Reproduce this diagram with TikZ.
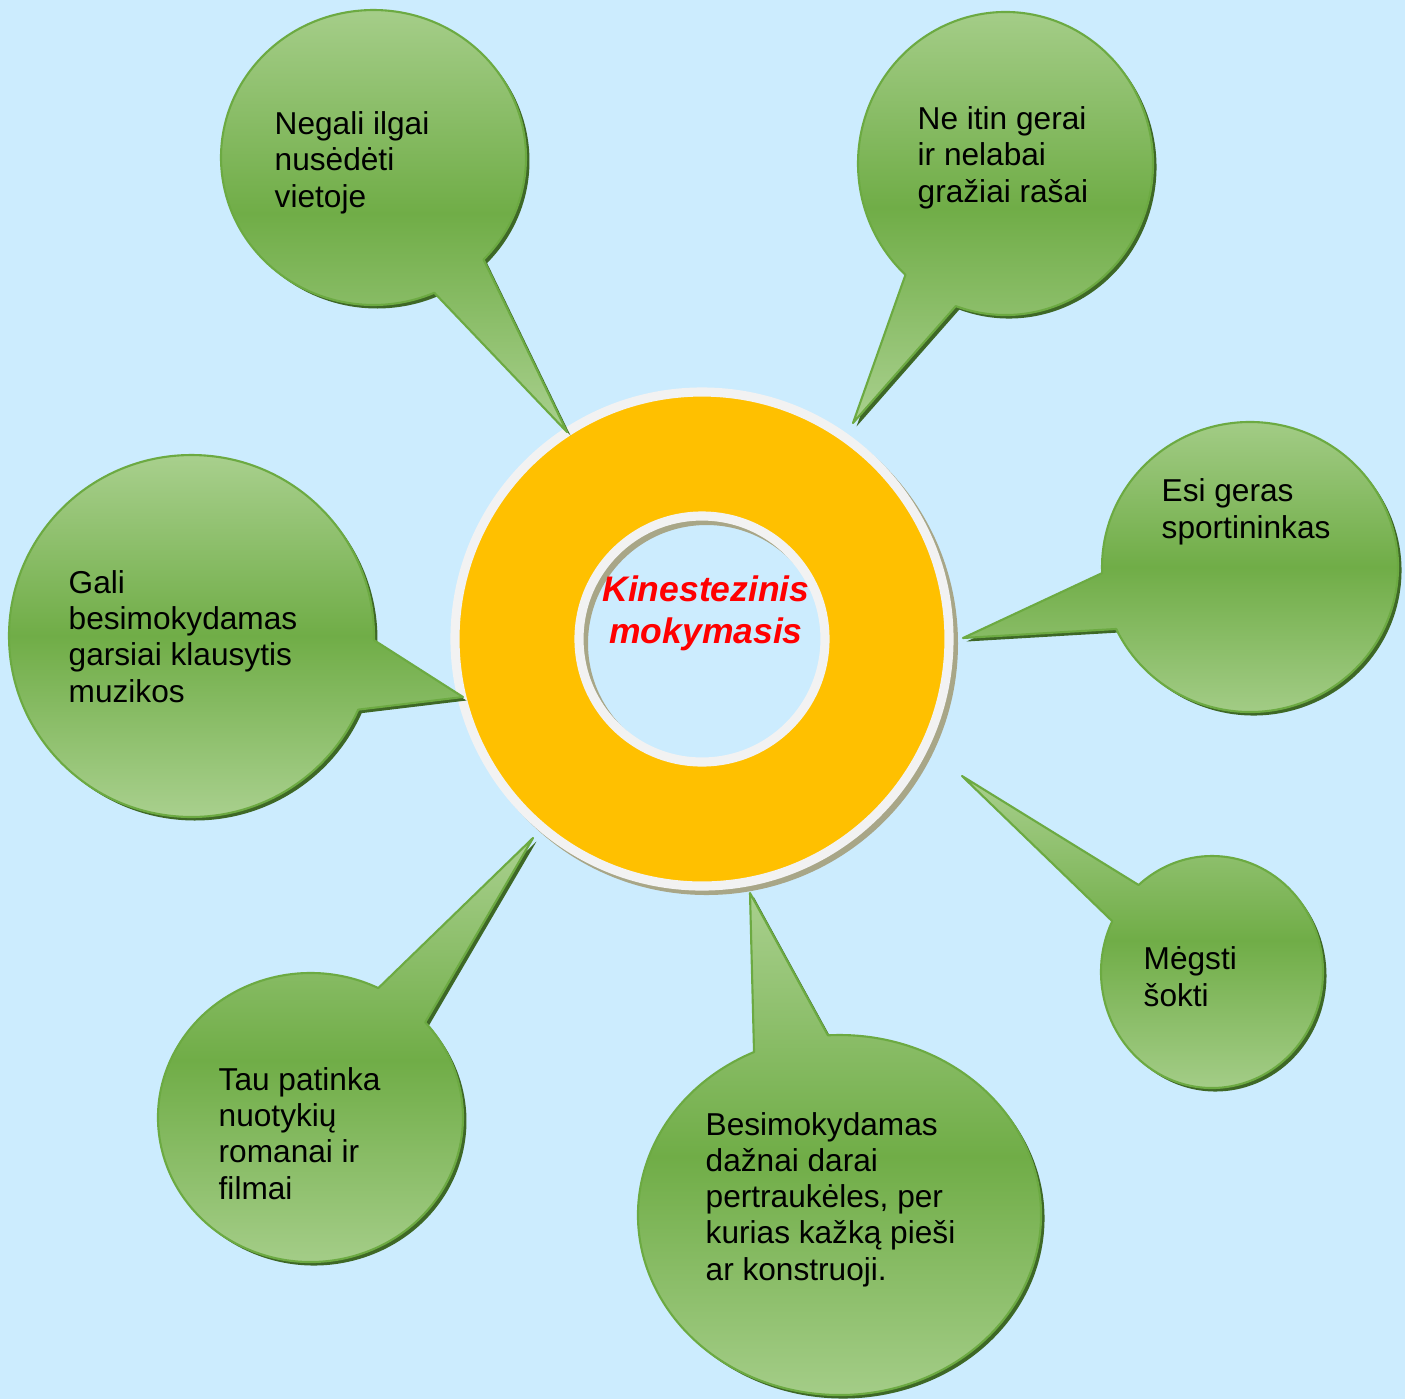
\documentclass[tikz,border=0pt]{standalone}
\usepackage{fontspec}
\setmainfont{Liberation Sans}
\usetikzlibrary{calc}

\definecolor{sky}{RGB}{204,236,254}
\definecolor{gold}{RGB}{255,192,0}
\definecolor{rim}{RGB}{242,242,242}
\definecolor{rimshade}{RGB}{168,166,135}
\definecolor{leaflight}{RGB}{169,208,142}
\definecolor{leafdark}{RGB}{112,173,71}
\definecolor{leafline}{RGB}{108,170,66}
\definecolor{leafshade}{RGB}{62,104,38}

\tikzset{
  bubble/.style={draw=leafline, line width=0.6pt, line join=round,
    top color=leaflight, bottom color=leaflight, middle color=leafdark,
    preaction={fill=leafshade, transform canvas={shift={(0.035,-0.035)}}}},
  say/.style={anchor=base west, align=left, inner sep=0pt,
    font=\fontsize{9}{10.3}\selectfont},
}

\begin{document}
\begin{tikzpicture}
\useasboundingbox (0,0) rectangle (14.05,-13.99);
\fill[sky] (0,0) rectangle (14.05,-13.99);

% ring in the middle
\coordinate (core) at (7.02,-6.39);
\fill[rimshade, even odd rule] ([shift={(0.045,-0.045)}]core) circle (2.515) ([shift={(0.045,-0.045)}]core) circle (1.185);
\draw[rim, line width=2.6pt, fill=gold, even odd rule] (core) circle (2.47) (core) circle (1.23);
% multi-line nodes sit on the baseline of their last line
\node[red, align=center, inner sep=0pt, anchor=base, font=\fontsize{10.1}{11.7}\selectfont\bfseries\itshape]
  (title) at (7.06,-6.43) {Kinestezinis\\mokymasis};

% bubble centres and tips of the tails
\coordinate (c1) at (3.735,-1.575);  \coordinate (t1) at (5.67,-4.32);
\coordinate (c2) at (10.055,-1.635); \coordinate (t2) at (8.53,-4.23);
\coordinate (c3) at (12.50,-5.67);   \coordinate (t3) at (9.63,-6.38);
\coordinate (c4) at (1.915,-6.36);   \coordinate (t4) at (4.63,-6.97);
\coordinate (c5) at (12.12,-9.72);   \coordinate (t5) at (9.62,-7.76);
\coordinate (c6) at (8.395,-12.15);  \coordinate (t6) at (7.50,-8.93);
\coordinate (c7) at (3.105,-11.175); \coordinate (t7) at (5.33,-8.38);

\draw[bubble] (t1) -- ([shift={(-43.8:1.525 and 1.475)}]c1)
  arc[start angle=-43.8, end angle=293.5, x radius=1.525, y radius=1.475] -- cycle;
\draw[bubble] (t2) -- ([shift={(250.3:1.475 and 1.515)}]c2)
  arc[start angle=250.3, end angle=587.3, x radius=1.475, y radius=1.515] -- cycle;
\draw[bubble] (t3) -- ([shift={(205.3:1.48 and 1.45)}]c3)
  arc[start angle=205.3, end angle=542.4, x radius=1.48, y radius=1.45] -- cycle;
\draw[bubble] (t4) -- ([shift={(-1.3:1.825 and 1.81)}]c4)
  arc[start angle=-1.3, end angle=336, x radius=1.825, y radius=1.81] -- cycle;
\draw[bubble] (t5) -- ([shift={(154:1.11 and 1.16)}]c5)
  arc[start angle=154, end angle=491.4, x radius=1.11, y radius=1.16] -- cycle;
\draw[bubble] (t6) -- ([shift={(115.1:2.015 and 1.80)}]c6)
  arc[start angle=115.1, end angle=453.3, x radius=2.015, y radius=1.80] -- cycle;
\draw[bubble] (t7) -- ([shift={(63.6:1.525 and 1.445)}]c7)
  arc[start angle=63.6, end angle=401.2, x radius=1.525, y radius=1.445] -- cycle;

\node[say] (n1) at (2.74,-2.07) {Negali ilgai\\nusėdėti\\vietoje};
\node[say] (n2) at (9.17,-2.02) {Ne itin gerai\\ir nelabai\\gražiai rašai};
\node[say] (n3) at (11.61,-5.38) {Esi geras\\sportininkas};
\node[say] (n4) at (0.68,-7.02) {Gali\\besimokydamas\\garsiai klausytis\\muzikos};
\node[say] (n5) at (11.43,-10.06) {Mėgsti\\šokti};
\node[say] (n6) at (7.05,-12.80) {Besimokydamas\\dažnai darai\\pertraukėles, per\\kurias kažką pieši\\ar konstruoji.};
\node[say] (n7) at (2.18,-11.99) {Tau patinka\\nuotykių\\romanai ir\\filmai};
\end{tikzpicture}
\end{document}
